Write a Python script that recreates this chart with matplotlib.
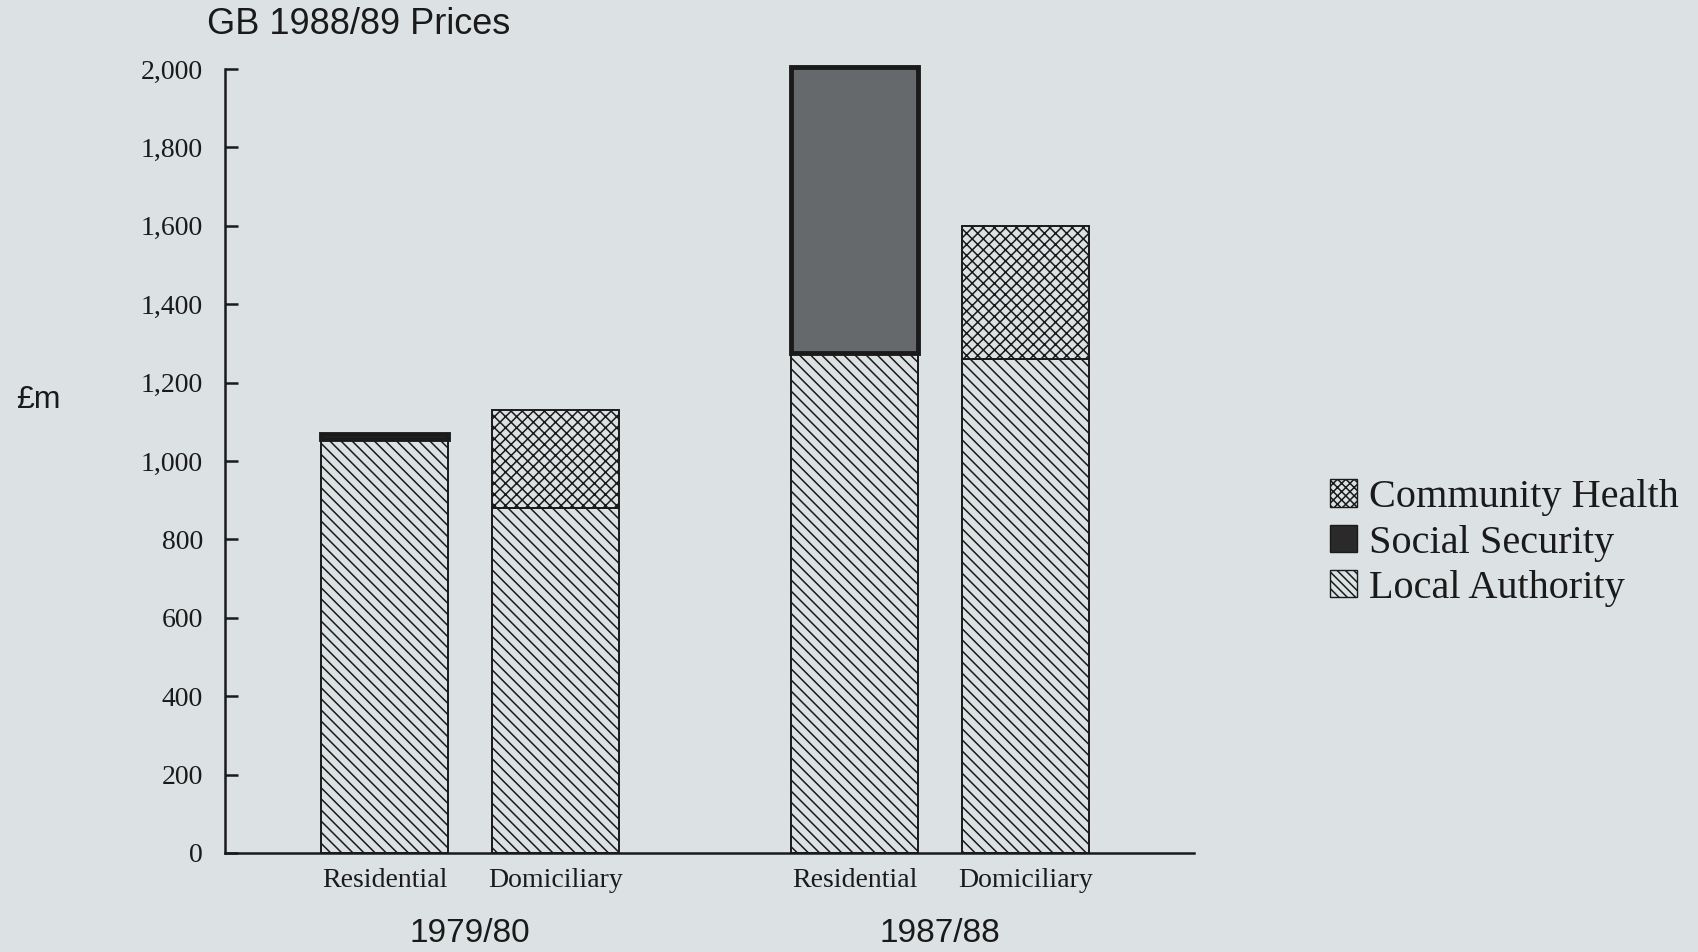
import numpy as np
import matplotlib
matplotlib.use("Agg")
import matplotlib.pyplot as plt
from matplotlib.patches import Patch
import matplotlib.transforms as mtransforms

# ----------------------------------------------------------------------
# DATA (GB 1988/89 prices, £m)
# ----------------------------------------------------------------------
groups = ["1979/80", "1987/88"]
kinds = ["Residential", "Domiciliary", "Residential", "Domiciliary"]
group_of_bar = [0, 0, 1, 1]
local_authority = np.array([1055, 880, 1275, 1260])
social_security = np.array([15, 0, 730, 0])
community_health = np.array([0, 250, 0, 340])

# ----------------------------------------------------------------------
# STYLE
# ----------------------------------------------------------------------
BG = "#dce2e3"
INK = "#1a1a1a"
SERIF = "Liberation Serif"
SANS = "Liberation Sans"
plt.rcParams["hatch.linewidth"] = 1.1
plt.rcParams["hatch.color"] = INK

fig = plt.figure(figsize=(16.98, 9.52), dpi=100, facecolor=BG)
ax = fig.add_axes([0.1325, 0.1040, 0.5707, 0.8235])
ax.set_facecolor(BG)

group_gap = 1.75
x = np.arange(len(kinds)) + np.array(group_of_bar) * (group_gap - 1)
w = 0.743

ax.bar(x, local_authority, w, facecolor=BG, edgecolor=INK, lw=1.4,
       hatch="\\\\\\", clip_on=False, zorder=2)

ss = social_security > 0
ax.bar(x[ss], social_security[ss], w, bottom=local_authority[ss],
       facecolor="#66696b", edgecolor=INK, lw=3.5, clip_on=False, zorder=3)

ch = community_health > 0
ax.bar(x[ch], community_health[ch], w, bottom=local_authority[ch],
       facecolor=BG, edgecolor=INK, lw=1.4, hatch="xxx", clip_on=False,
       zorder=2)

# Achsen
ax.set_xlim(-0.933, 4.734)
ax.set_ylim(0, 2000)
for s in ["top", "right"]:
    ax.spines[s].set_visible(False)
for s in ["left", "bottom"]:
    ax.spines[s].set_linewidth(1.8)
    ax.spines[s].set_color(INK)

yt = np.arange(0, 2001, 200)
ax.set_yticks(yt)
ax.set_yticklabels([f"{v:,}" for v in yt], fontfamily=SERIF, fontsize=20,
                   color=INK)
ax.tick_params(axis="y", direction="in", length=9, width=1.8, pad=16,
               color=INK)

ax.set_xticks(x)
ax.set_xticklabels(kinds, fontfamily=SERIF, fontsize=20, color=INK)
ax.tick_params(axis="x", length=0, pad=11)

# Jahresbeschriftungen unter den Gruppen
trans = mtransforms.blended_transform_factory(ax.transData, fig.transFigure)
for gi, g in enumerate(groups):
    xs = x[np.array(group_of_bar) == gi]
    ax.text(xs.mean(), 1 - 934 / 952, g, transform=trans, ha="center",
            va="center", fontfamily=SANS, fontsize=24, color=INK)

fig.text(207 / 1698, 1 - 25 / 952, "GB 1988/89 Prices", ha="left",
         va="center", fontfamily=SANS, fontsize=26, color=INK)
fig.text(16 / 1698, 1 - 400 / 952, "£m", ha="left", va="center",
         fontfamily=SANS, fontsize=23, color=INK)

handles = [
    Patch(facecolor=BG, edgecolor=INK, lw=1.0, hatch="xxxx",
          label="Community Health"),
    Patch(facecolor="#2a2a2a", edgecolor=INK, lw=1.0,
          label="Social Security"),
    Patch(facecolor=BG, edgecolor=INK, lw=1.0, hatch="\\\\\\\\",
          label="Local Authority"),
]
fig.legend(handles=handles, loc="center left",
           bbox_to_anchor=(1330 / 1698, 1 - 543 / 952), frameon=False,
           prop={"family": SERIF, "size": 29}, handlelength=0.68,
           handleheight=0.68, handletextpad=0.3, labelspacing=0.2,
           borderpad=0, borderaxespad=0, labelcolor=INK)

fig.savefig("out.png", dpi=100, facecolor=BG)
